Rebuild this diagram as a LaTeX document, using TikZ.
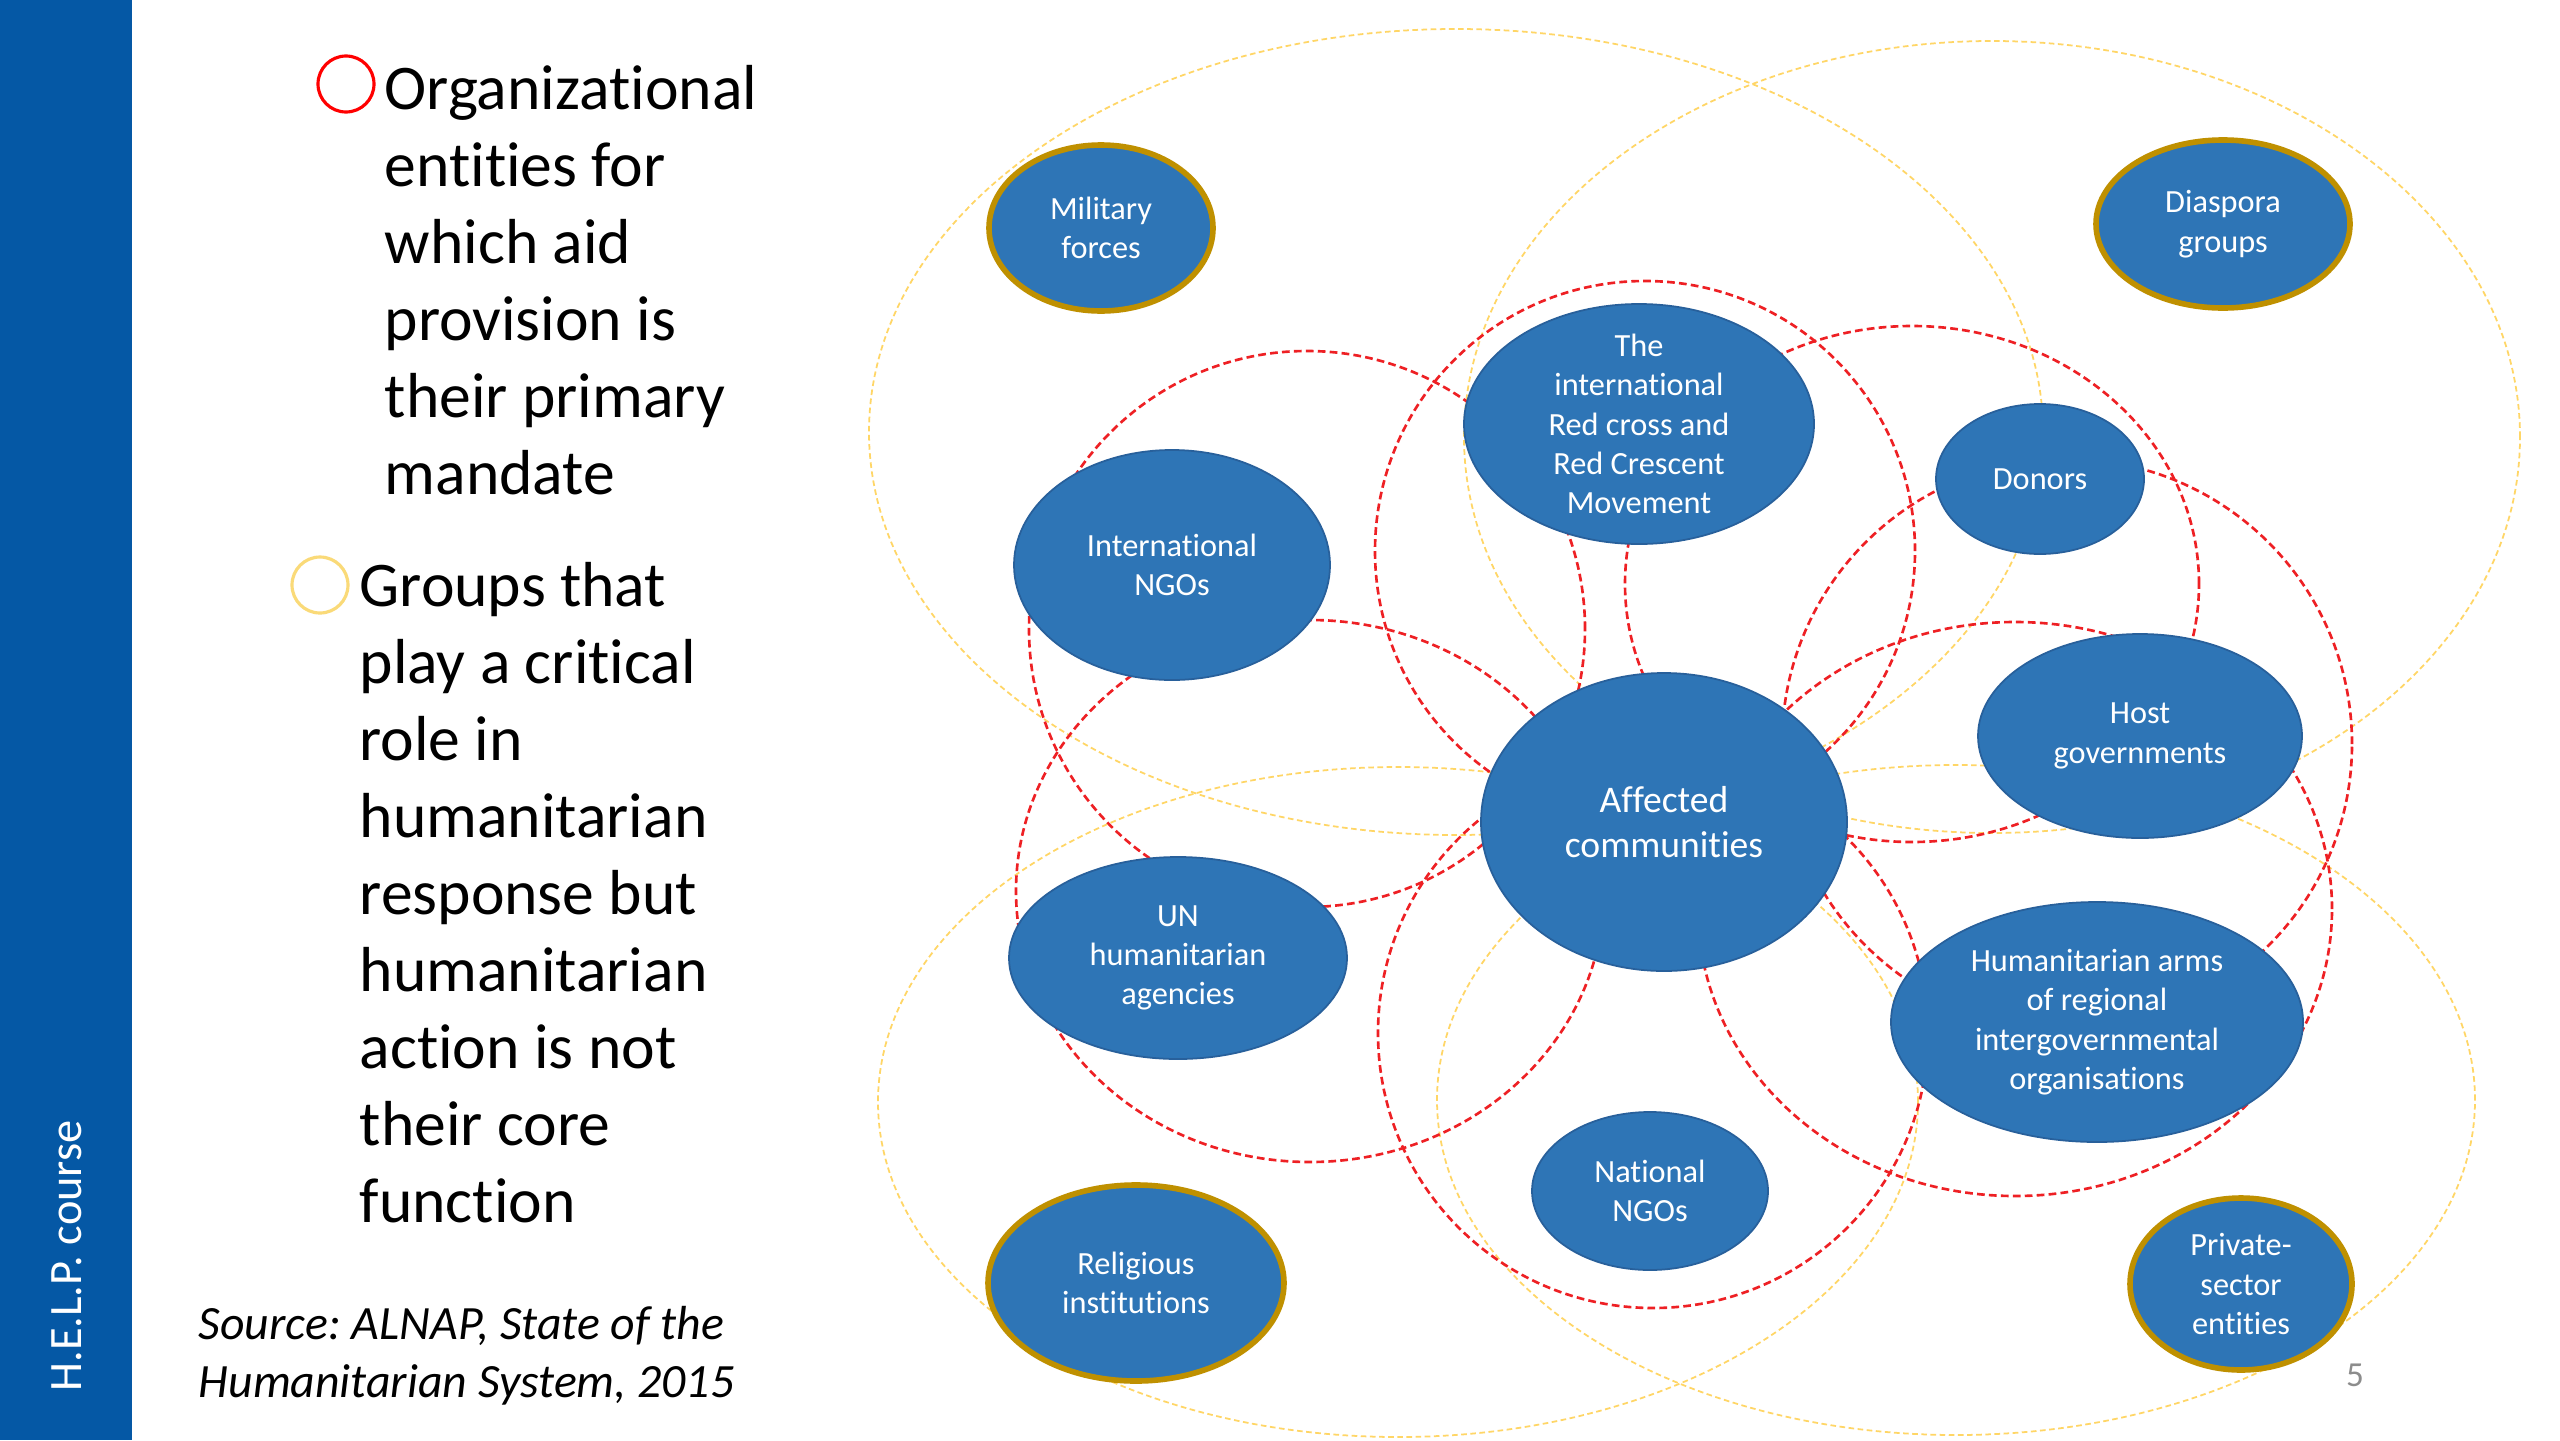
\documentclass[tikz,border=0pt]{standalone}
\usepackage{fontspec}
\setmainfont{Carlito}[Ligatures=NoCommon]
\usetikzlibrary{shapes.geometric}
\frenchspacing

\definecolor{helpblue}{RGB}{5,88,165}
\definecolor{orgblue}{RGB}{46,117,182}
\definecolor{orgedge}{RGB}{40,96,155}
\definecolor{ringred}{RGB}{238,32,36}
\definecolor{ringgold}{RGB}{255,214,102}
\definecolor{rimgold}{RGB}{191,144,0}
\definecolor{bulletgold}{RGB}{250,218,120}

\newcommand\orgfont{\fontsize{9.2}{11.2}\selectfont}
\newcommand\bigorgfont{\fontsize{10.7}{13}\selectfont}
\newcommand\listfont{\fontsize{18.1}{21.9}\selectfont}

\begin{document}
\begin{tikzpicture}[
    org/.style={ellipse,fill=orgblue,draw=orgedge,line width=0.5pt,text=white,
      inner sep=-4pt,align=center,font=\orgfont},
    outsider/.style={org,draw=rimgold,line width=1.6pt},
    redring/.style={draw=ringred,line width=0.75pt,dash pattern=on 2.2pt off 1.2pt},
    goldring/.style={draw=ringgold,line width=0.5pt,dash pattern=on 1.6pt off 1pt}]

  \fill[white] (0,0) rectangle (25.6,-14.4);
  \useasboundingbox (0,0) rectangle (25.6,-14.4);

  % side bar
  \fill[helpblue] (0,0) rectangle (1.32,-14.4);
  \draw (0.67,-12.56) node[rotate=90,text=white,font=\fontsize{13.2}{16}\selectfont] (course) {H.E.L.P. course};

  % legend text (base anchor sits on the last line)
  \draw (3.46,-0.84) node[circle,draw=red,line width=0.9pt,minimum size=0.56cm,inner sep=0pt] (bulletred) {};
  \draw (3.84,-4.94) node[anchor=base west,align=left,inner sep=0pt,font=\listfont] (primary)
    {Organizational\\entities for\\which aid\\provision is\\their primary\\mandate};
  \draw (3.20,-5.85) node[circle,draw=bulletgold,line width=0.9pt,minimum size=0.56cm,inner sep=0pt] (bulletgold) {};
  \draw (3.59,-12.22) node[anchor=base west,align=left,inner sep=0pt,font=\listfont] (critical)
    {Groups that\\play a critical\\role in\\humanitarian\\response but\\humanitarian\\action is not\\their core\\function};
  \draw (1.98,-13.97) node[anchor=base west,align=left,inner sep=0pt,font=\fontsize{13.6}{16.5}\selectfont\itshape] (source)
    {Source: ALNAP, State of the\\Humanitarian System, 2015};

  % yellow rings
  \draw[goldring] (14.56,-4.32) ellipse (5.87 and 4.03);
  \draw[goldring] (19.92,-4.37) ellipse (5.28 and 3.96);
  \draw[goldring] (13.98,-11.02) ellipse (5.20 and 3.35);
  \draw[goldring] (19.56,-11.00) ellipse (5.19 and 3.35);

  % red rings
  \draw[redring] (13.07,-6.29) ellipse (2.78 and 2.78);
  \draw[redring] (13.10,-8.91) ellipse (2.94 and 2.71);
  \draw[redring] (16.45,-5.51) ellipse (2.70 and 2.70);
  \draw[redring] (19.12,-5.84) ellipse (2.87 and 2.58);
  \draw[redring] (20.67,-7.44) ellipse (2.85 and 2.85);
  \draw[redring] (20.15,-9.09) ellipse (3.17 and 2.87);
  \draw[redring] (16.53,-10.33) ellipse (2.75 and 2.75);

  % actors
  \draw (16.64,-8.22) node[org,minimum width=3.66cm,minimum height=2.98cm,font=\bigorgfont] (affected) {Affected\\communities};
  \draw (16.39,-4.24) node[org,minimum width=3.50cm,minimum height=2.40cm] (redcross) {The\\international\\Red cross and\\Red Crescent\\Movement};
  \draw (20.40,-4.79) node[org,minimum width=2.08cm,minimum height=1.50cm] (donors) {Donors};
  \draw (11.72,-5.65) node[org,minimum width=3.16cm,minimum height=2.30cm] (ingo) {International\\NGOs};
  \draw (21.40,-7.36) node[org,minimum width=3.24cm,minimum height=2.04cm] (host) {Host\\governments};
  \draw (11.78,-9.58) node[org,minimum width=3.38cm,minimum height=2.02cm] (un) {UN\\humanitarian\\agencies};
  \draw (20.97,-10.22) node[org,minimum width=4.12cm,minimum height=2.40cm] (regional) {Humanitarian arms\\of regional\\intergovernmental\\organisations};
  \draw (16.50,-11.91) node[org,minimum width=2.36cm,minimum height=1.58cm] (nngo) {National\\NGOs};

  \draw (11.01,-2.28) node[outsider,minimum width=2.24cm,minimum height=1.66cm] (military) {Military\\forces};
  \draw (22.23,-2.24) node[outsider,minimum width=2.54cm,minimum height=1.68cm] (diaspora) {Diaspora\\groups};
  \draw (11.36,-12.83) node[outsider,minimum width=2.96cm,minimum height=1.96cm] (religious) {Religious\\institutions};
  \draw (22.41,-12.84) node[outsider,minimum width=2.22cm,minimum height=1.72cm] (private) {Private-\\sector\\entities};

  \draw (23.55,-13.75) node[text=black!45,font=\fontsize{10}{12}\selectfont] (page) {5};
\end{tikzpicture}
\end{document}
